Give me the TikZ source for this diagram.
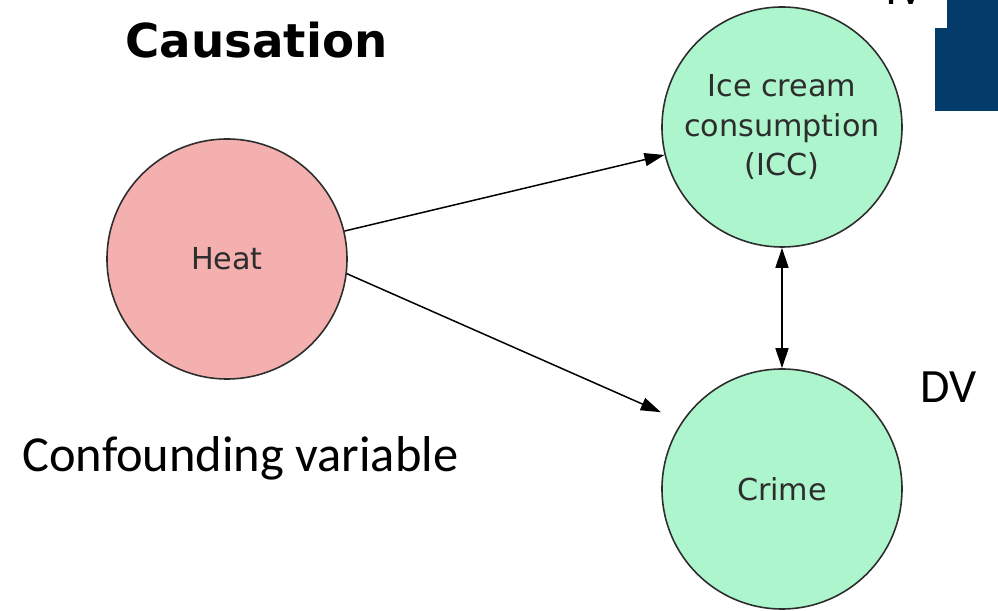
\documentclass[tikz,border=0pt]{standalone}
\usepackage{fontspec}
\setmainfont{DejaVu Sans}
\newfontfamily\slidefont{Carlito}
\usetikzlibrary{arrows.meta}
\definecolor{HeatPink}{RGB}{244, 176, 174}
\definecolor{MintGreen}{RGB}{173, 245, 204}
\definecolor{SlideBlue}{RGB}{3, 59, 106}
\definecolor{InkGray}{RGB}{45, 45, 45}

\begin{document}
\begin{tikzpicture}[auto]
\tikzstyle{bubble} = [circle, draw=InkGray, line width=0.9pt,
    minimum size=4.8cm, inner sep=0pt, align=center, text=InkGray,
    font=\fontsize{17.2}{22.7}\selectfont]
\tikzstyle{line} = [draw, line width=0.85pt, -{Triangle[length=4mm,width=2.6mm]}]
\tikzstyle{slidetext} = [anchor=base west, inner sep=0pt]

\useasboundingbox (0,0) rectangle (19.96,-12.22);

\node [bubble, fill=HeatPink] (heat) at (4.54,-5.18) {Heat};
\coordinate [right of=heat, node distance=11.1cm] (midright);
\node [bubble, fill=MintGreen, above of=midright, node distance=2.64cm] (icc) {Ice cream\\consumption\\(ICC)};
\node [bubble, fill=MintGreen, below of=icc, node distance=7.24cm] (crime) {Crime};
%
\path [line] (heat) -- (icc);
\path [line, shorten >=0.46cm] (heat.-7.5) -- (crime.146);
\path [line, {Triangle[length=4mm,width=2.6mm]}-{Triangle[length=4mm,width=2.6mm]}] (icc) -- (crime);
%
\node [slidetext, font=\bfseries\fontsize{26.6}{30}\selectfont] (title) at (2.5,-1.16) {Causation};
\node [slidetext, font=\slidefont\fontsize{28.7}{30}\selectfont] (confound) at (0.44,-9.44) {Confounding variable};
\node [slidetext, font=\slidefont\fontsize{27.2}{30}\selectfont] (dv) at (18.4,-8.06) {DV};
\node [slidetext, font=\slidefont\fontsize{27.2}{30}\selectfont] (iv) at (17.7,-0.1) {IV};
%
\fill [SlideBlue] (18.94,0) rectangle (19.96,-0.56);
\fill [SlideBlue] (18.7,-0.56) rectangle (19.96,-2.22);

\end{tikzpicture}
\end{document}
